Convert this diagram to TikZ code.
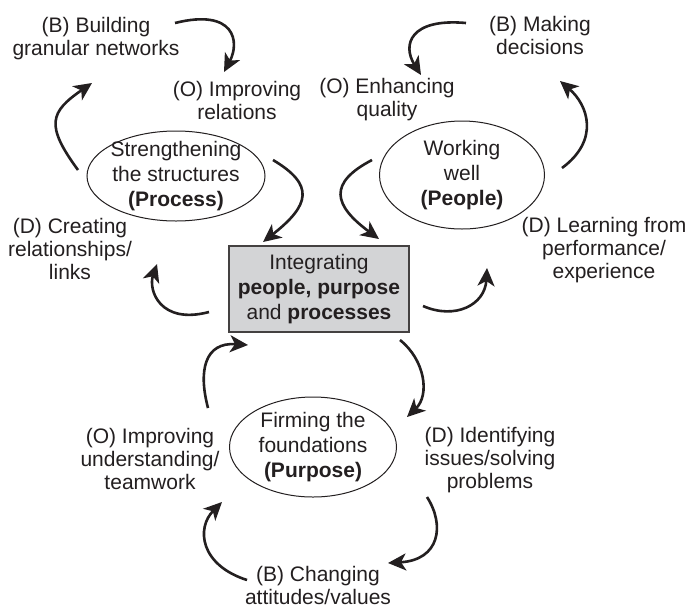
\documentclass[tikz,border=0pt]{standalone}
\usepackage{fontspec}
\setmainfont{Liberation Sans}
\usepackage{tikz}
\usetikzlibrary{positioning, arrows.meta, calc, shapes.geometric}
\definecolor{ink}{RGB}{35,31,32}
\definecolor{hubgray}{RGB}{211,212,214}

\begin{document}
\begin{tikzpicture}[x=0.5pt, y=-0.5pt,
    every node/.style={text=ink, align=center},
    lbl/.style={inner sep=1pt, font=\fontsize{10.5}{11.5}\selectfont},
    ring/.style={draw=ink, line width=0.5pt, ellipse, inner sep=-12pt, font=\fontsize{10.5}{12.5}\selectfont},
    hub/.style={draw=ink!85, fill=hubgray, line width=0.6pt, minimum width=90pt, minimum height=43pt, font=\fontsize{10.5}{12.5}\selectfont},
    flow/.style={draw=ink, line width=1.3pt, -{Stealth[length=9pt, width=8.5pt, inset=2.5pt]}}]
        \fill[white] (0,0) rectangle (690,606);
        \useasboundingbox (0,0) rectangle (690,606);
        \node[hub] (hub) at (319,289) {Integrating\\\textbf{people, purpose}\\and \textbf{processes}};
        \node[ring, minimum width=89pt, minimum height=45pt] (process) at (176,176) {Strengthening\\the structures\\\textbf{(Process)}};
        \node[ring, minimum width=82.5pt, minimum height=54pt] (people) at (462,175) {Working\\well\\\textbf{(People)}};
        \node[ring, minimum width=83.5pt, minimum height=50pt] (purpose) at (313,447) {Firming the\\foundations\\\textbf{(Purpose)}};
        \node[lbl] (build) at (96,38.5) {(B) Building\\granular networks};
        \node[lbl] (relate) at (237,100) {(O) Improving\\relations};
        \node[lbl] (quality) at (387,100) {(O) Enhancing\\quality};
        \node[lbl] (decide) at (540,35) {(B) Making\\decisions};
        \node[lbl] (links) at (70,248.5) {(D) Creating\\relationships/\\links};
        \node[lbl] (learn) at (604,250.5) {(D) Learning from\\performance/\\experience};
        \node[lbl] (team) at (150,458.5) {(O) Improving\\understanding/\\teamwork};
        \node[lbl] (issues) at (490,460.5) {(D) Identifying\\issues/solving\\problems};
        \node[lbl] (values) at (318,585) {(B) Changing\\attitudes/values};

        \draw[flow] ($(hub)+(-110,23)$) .. controls +(-49,13) and +(-9,26) .. ($(links)+(87,15.5)$);
        \draw[flow] ($(links)+(8,-78.5)$) .. controls +(-33,-45) and +(-42,29) .. ($(build)+(-4,44.5)$);
        \draw[flow] ($(build)+(79,-15.5)$) .. controls +(60,-15) and +(16,-30) .. ($(relate)+(-13,-28)$);
        \draw[flow] ($(process)+(97,-16)$) .. controls +(42,25) and +(47,-37) .. ($(hub)+(-56,-47)$);
        \draw[flow] ($(hub)+(104,17)$) .. controls +(32,14) and +(-2,37) .. ($(learn)+(-117,17.5)$);
        \draw[flow] ($(learn)+(-42,-82.5)$) .. controls +(38,-28) and +(28,24) .. ($(decide)+(20,46)$);
        \draw[flow] ($(decide)+(-74,-12)$) .. controls +(-56,-5) and +(-19,-30) .. ($(quality)+(34,-25)$);
        \draw[flow] ($(people)+(-90,-15)$) .. controls +(-44,23) and +(-46,-34) .. ($(hub)+(60,-50)$);
        \draw[flow] ($(hub)+(81,51)$) .. controls +(25,20) and +(23,-22) .. ($(issues)+(-83,-43.5)$);
        \draw[flow] ($(issues)+(-63,36.5)$) .. controls +(18,28) and +(52,-3) .. ($(values)+(70,-22)$);
        \draw[flow] ($(values)+(-71,-5)$) .. controls +(-47,-15) and +(-26,26) .. ($(team)+(72,43.5)$);
        \draw[flow] ($(team)+(58,-50.5)$) .. controls +(-10,-38) and +(-43,-3) .. ($(hub)+(-71,56)$);
\end{tikzpicture}
\end{document}
